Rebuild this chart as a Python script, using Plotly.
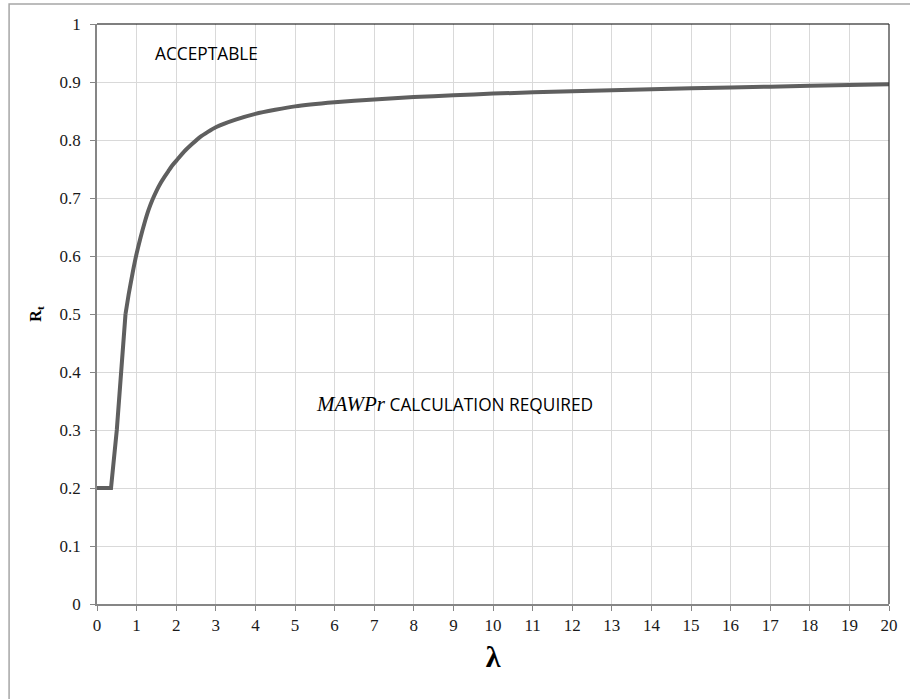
import plotly.graph_objects as go

# Screening curve
# lower part: flat plateau and steep rise
lam_low = [0.0, 0.354, 0.5, 0.62, 0.72]
rt_low = [0.2, 0.2, 0.3, 0.4, 0.5]

# upper part: smooth curve
lam_curve = [0.72, 0.8, 0.9, 1.0, 1.1, 1.2, 1.3, 1.4, 1.5, 1.6, 1.7, 1.8, 1.9, 2.0,
             2.2, 2.4, 2.6, 2.8, 3.0, 3.5, 4.0, 4.5, 5.0, 6.0, 7.0, 8.0, 9.0, 10.0,
             12.0, 14.0, 16.0, 18.0, 20.0]
rt_curve = [0.500, 0.534, 0.571, 0.604, 0.632, 0.657, 0.679, 0.697, 0.712, 0.725, 0.736,
            0.746, 0.756, 0.764, 0.780, 0.793, 0.805, 0.814, 0.822, 0.835, 0.845, 0.852,
            0.858, 0.865, 0.870, 0.874, 0.877, 0.880, 0.884, 0.8875, 0.8905, 0.8935, 0.896]

x_ticks = list(range(0, 21))
y_ticks = [0, 0.1, 0.2, 0.3, 0.4, 0.5, 0.6, 0.7, 0.8, 0.9, 1]
y_tick_text = ["0", "0.1", "0.2", "0.3", "0.4", "0.5", "0.6", "0.7", "0.8", "0.9", "1"]

line_color = "#5f5f5f"

fig = go.Figure()
fig.add_trace(go.Scatter(x=lam_low, y=rt_low, mode="lines",
                         line=dict(color=line_color, width=4), showlegend=False,
                         hoverinfo="skip"))
fig.add_trace(go.Scatter(x=lam_curve, y=rt_curve, mode="lines",
                         line=dict(color=line_color, width=4, shape="spline", smoothing=0.6),
                         showlegend=False))

serif = "Liberation Serif"
fig.update_layout(
    width=910, height=699,
    margin=dict(l=97, r=21, t=24, b=95),
    paper_bgcolor="white", plot_bgcolor="white",
    xaxis=dict(range=[0, 20], tickvals=x_ticks, showgrid=True, gridcolor="#d9d9d9",
               gridwidth=1, zeroline=False, showline=True, linecolor="#868686",
               linewidth=1.5, ticks="outside", ticklen=5, tickcolor="#868686",
               tickfont=dict(family=serif, size=17, color="#1a1a1a"),
               title=dict(text="<b>λ</b>", font=dict(family=serif, size=30, color="#000"),
                          standoff=12)),
    yaxis=dict(range=[0, 1], tickvals=y_ticks, ticktext=y_tick_text, showgrid=True,
               gridcolor="#d9d9d9", gridwidth=1, zeroline=False, showline=True,
               linecolor="#868686", linewidth=1.5, ticks="outside", ticklen=5,
               ticklabelstandoff=6,
               tickcolor="#868686", tickfont=dict(family=serif, size=17, color="#1a1a1a"),
               title=dict(text="<b>R<sub>t</sub></b>", font=dict(family=serif, size=16, color="#000"),
                          standoff=14)),
)

# outer chart border (left and top visible)
fig.add_shape(type="rect", xref="paper", yref="paper", x0=-0.111, x1=1.2, y0=-0.35, y1=1.0345,
              line=dict(color="#a6a6a6", width=1.5), fillcolor="rgba(0,0,0,0)", layer="below")
# plot area top/right border
fig.add_shape(type="line", xref="paper", yref="paper", x0=0, x1=1, y0=1, y1=1,
              line=dict(color="#000", width=1.2))
fig.add_shape(type="line", xref="paper", yref="paper", x0=1, x1=1, y0=0, y1=1,
              line=dict(color="#333", width=1.2))

fig.add_annotation(x=2.76, y=0.950, xref="x", yref="y", text="ACCEPTABLE", showarrow=False,
                   font=dict(family="Open Sans", size=17.3, color="#000"))
fig.add_annotation(x=5.48, y=0.345, xref="x", yref="y", xanchor="left",
                   text="<span style=\"font-family:'Liberation Serif';font-size:21px\"><i>MAWPr</i></span> CALCULATION REQUIRED",
                   showarrow=False, font=dict(family="Open Sans", size=17.3, color="#000"))

fig.write_html("out.html", config={"displayModeBar": False},
               post_script="document.body.style.margin='0';")
